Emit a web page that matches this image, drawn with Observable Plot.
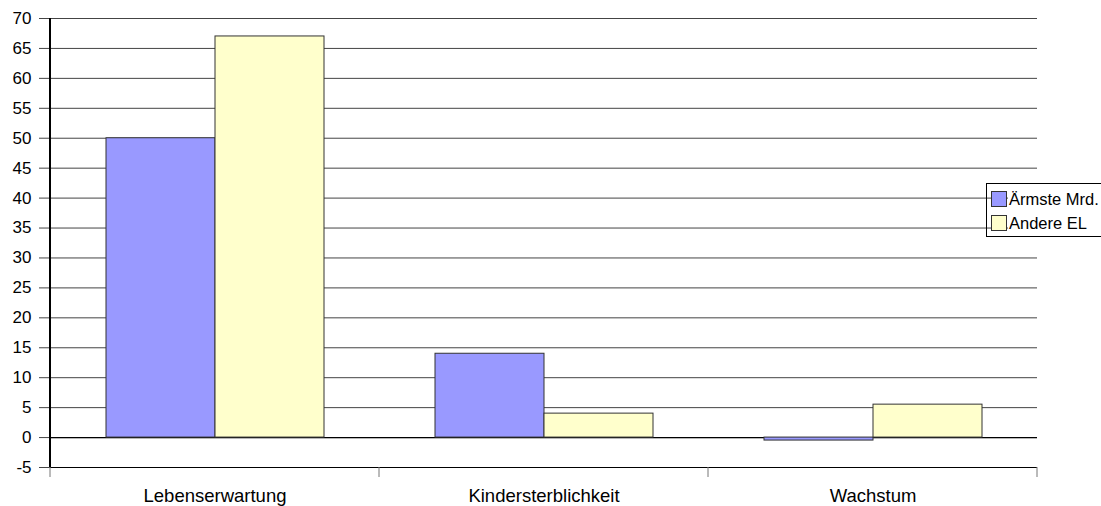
<!DOCTYPE html>
<html><head><meta charset="utf-8">
<script src="https://cdn.jsdelivr.net/npm/d3@7"></script>
<script src="https://cdn.jsdelivr.net/npm/@observablehq/plot@0.6"></script>
<style>
html,body{margin:0;padding:0;background:#fff;}
body{font-family:"Liberation Sans",Arial,sans-serif;}
#wrap{position:relative;width:1101px;height:506px;overflow:hidden;}
#legend{position:absolute;left:986px;top:183px;width:140px;height:54px;border:1px solid #000;box-sizing:border-box;}
#legend .item{position:absolute;left:4px;height:16px;display:flex;align-items:center;font-size:16.5px;line-height:16px;color:#000;}
#legend .sw{width:14px;height:14px;border:1px solid #333;margin-right:1px;flex:none;}
#legend .lbl{background:#fff;padding:0 0 0 1px;white-space:nowrap;}
</style>
</head><body>
<div id="wrap"></div>
<script>
const categories = ["Lebenserwartung", "Kindersterblichkeit", "Wachstum"];
const seriesNames = ["Ärmste Mrd.", "Andere EL"];
const armsteValues = [50, 14, -0.5];
const andereValues = [67, 4, 5.5];
const seriesColors = ["#9999FF", "#FFFFCC"];
const yTicks = [-5, 0, 5, 10, 15, 20, 25, 30, 35, 40, 45, 50, 55, 60, 65, 70];

const data = categories.flatMap((c, i) => [
  {category: c, series: seriesNames[0], value: armsteValues[i]},
  {category: c, series: seriesNames[1], value: andereValues[i]}
]);

const plot = Plot.plot({
  width: 1101,
  height: 506,
  marginLeft: 49,
  marginRight: 63,
  marginTop: 18,
  marginBottom: 39,
  style: {fontFamily: "'Liberation Sans', Arial, sans-serif", fontSize: "17px", color: "#000", background: "#fff"},
  fx: {domain: categories, padding: 0, label: null},
  x: {domain: seriesNames, paddingInner: 0, paddingOuter: 0.5, axis: null},
  y: {domain: [-5, 70], label: null},
  color: {domain: seriesNames, range: seriesColors},
  marks: [
    Plot.gridY(yTicks, {stroke: "#444", strokeOpacity: 1}),
    Plot.ruleY([0, -5], {stroke: "#000", strokeWidth: 1.2}),
    Plot.barY(data, {fx: "category", x: "series", y: "value", fill: "series", stroke: "#333", strokeWidth: 1}),
    Plot.axisY(yTicks, {tickSize: 11, tickPadding: 8, fontSize: 17, stroke: "#444", label: null, tickFormat: d => String(d)}),
    Plot.axisFx({anchor: "bottom", tickSize: 0, tickPadding: 21, fontSize: 18.5, label: null}),
    Plot.ruleY(categories, {
      fx: d => d,
      y: () => -5,
      render(index, scales, values, dimensions, context) {
        const g = d3.create("svg:g");
        const [x0, x1] = scales.x.range();
        const yb = scales.y(-5);
        const yt = scales.y(70);
        const i = index[0];
        g.append("line").attr("x1", x0).attr("x2", x0).attr("y1", yb).attr("y2", yb + 10).attr("stroke", "#777");
        if (i === categories.length - 1) {
          g.append("line").attr("x1", x1).attr("x2", x1).attr("y1", yb).attr("y2", yb + 10).attr("stroke", "#777");
        }
        if (i === 0) {
          g.append("line").attr("x1", x0).attr("x2", x0).attr("y1", yt).attr("y2", yb).attr("stroke", "#000").attr("stroke-width", 2);
        }
        return g.node();
      }
    })
  ]
});

const wrap = document.getElementById("wrap");
wrap.appendChild(plot);

const legend = document.createElement("div");
legend.id = "legend";
seriesNames.forEach((name, i) => {
  const item = document.createElement("div");
  item.className = "item";
  item.style.top = (7 + i * 24) + "px";
  const sw = document.createElement("span");
  sw.className = "sw";
  sw.style.background = seriesColors[i];
  const lbl = document.createElement("span");
  lbl.className = "lbl";
  lbl.textContent = name;
  item.appendChild(sw);
  item.appendChild(lbl);
  legend.appendChild(item);
});
wrap.appendChild(legend);
</script>
</body></html>
